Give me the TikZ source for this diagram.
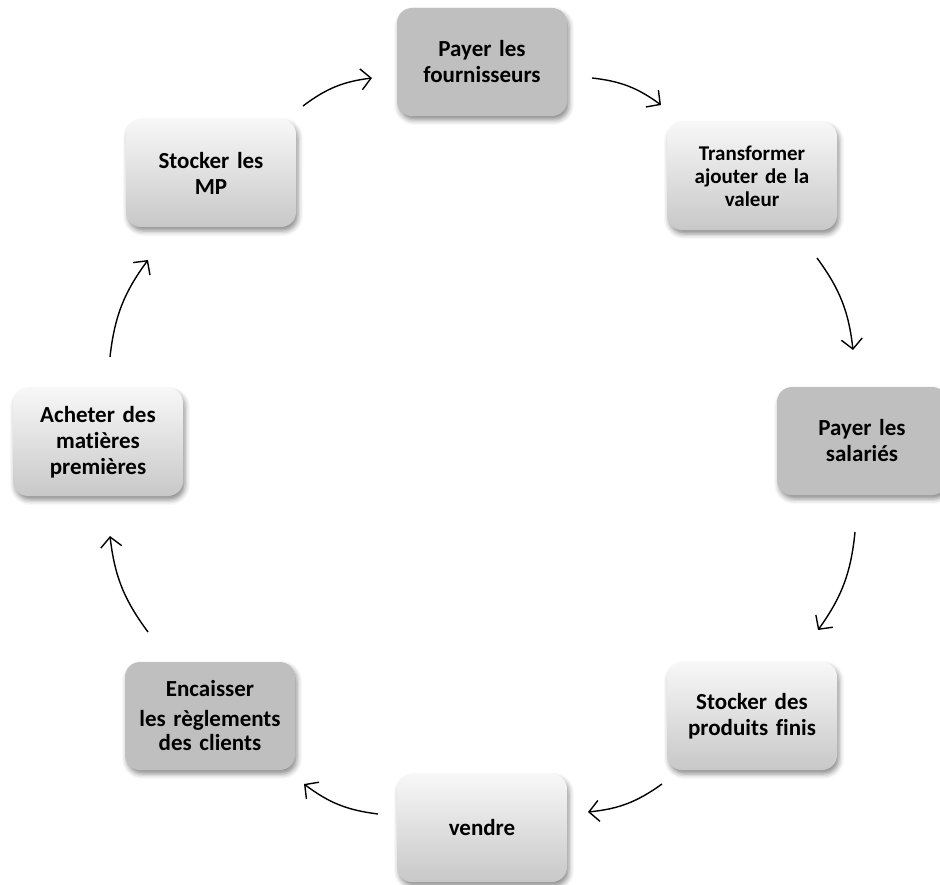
\documentclass[tikz,border=0pt]{standalone}
\usepackage{fontspec}
\setmainfont{Carlito}[Ligatures=NoCommon]
\usetikzlibrary{shadows.blur,arrows.meta}
\definecolor{boxgrey}{RGB}{191,191,191}
\definecolor{boxlow}{RGB}{200,200,200}
\begin{document}
\begin{tikzpicture}[x=1pt,y=-1pt,
  box/.style={rounded corners=15pt, minimum width=170pt, minimum height=108pt,
    text width=160pt, align=center, inner sep=0pt,
    font=\bfseries\fontsize{23}{26}\selectfont,
    blur shadow={shadow xshift=2pt, shadow yshift=-4pt, shadow blur radius=5pt, shadow opacity=45}},
  greybox/.style={box, fill=boxgrey},
  whitebox/.style={box, top color=white!97!black, bottom color=boxlow},
  flow/.style={line width=1.4pt, -{Straight Barb[length=10pt,width=21pt,line width=1.4pt]}, bend left=15}
]
\useasboundingbox (0,0) rectangle (940,885);

% the eight stages of the cycle
\node[greybox]  (fourn) at (482,62)  {Payer les\\ fournisseurs};
\node[whitebox, font=\bfseries\fontsize{21}{23}\selectfont] (transf) at (752,176) {Transformer\\ ajouter de la\\ valeur};
\node[greybox]  (sal)   at (862,441) {Payer les\\ salariés};
\node[whitebox] (pf)    at (752,716) {Stocker des\\ produits finis};
\node[whitebox] (vend)  at (482,828) {vendre};
\node[greybox, font=\bfseries\fontsize{23}{24}\selectfont] (enc) at (210,716) {Encaisser\\[6pt] les règlements\\ des clients};
\node[whitebox] (ach)   at (98,442)  {Acheter des\\ matières\\ premières};
\node[whitebox] (mp)    at (211,173) {Stocker les\\ MP};

% arrow end points between neighbouring stages
\coordinate (a1s) at (303,106); \coordinate (a1e) at (372,78);
\coordinate (a2s) at (592,78);  \coordinate (a2e) at (661,105);
\coordinate (a3s) at (817,258); \coordinate (a3e) at (853,350);
\coordinate (a4s) at (855,532); \coordinate (a4e) at (818,630);
\coordinate (a5s) at (662,784); \coordinate (a5e) at (588,812);
\coordinate (a6s) at (378,814); \coordinate (a6e) at (304,784);
\coordinate (a7s) at (148,632); \coordinate (a7e) at (110,536);
\coordinate (a8s) at (110,357); \coordinate (a8e) at (148,260);

\draw[flow] (a1s) to (a1e);
\draw[flow] (a2s) to (a2e);
\draw[flow] (a3s) to (a3e);
\draw[flow] (a4s) to (a4e);
\draw[flow] (a5s) to (a5e);
\draw[flow] (a6s) to (a6e);
\draw[flow] (a7s) to (a7e);
\draw[flow] (a8s) to (a8e);
\end{tikzpicture}
\end{document}
